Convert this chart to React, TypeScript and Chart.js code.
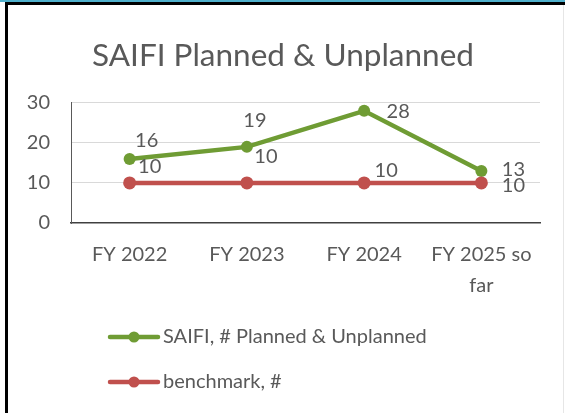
import React, { useEffect, useRef } from "react";
import { Chart, registerables } from "chart.js";

Chart.register(...registerables);

// ---- data ----
const categories: (string | string[])[] = ["FY 2022", "FY 2023", "FY 2024", ["FY 2025 so", "far"]];
const saifiValues = [16, 19, 28, 13];
const benchmarkValues = [10, 10, 10, 10];
const yTickValues = [0, 10, 20, 30];
const titleText = "SAIFI Planned & Unplanned";
const seriesNames = ["SAIFI, # Planned & Unplanned", "benchmark, #"];

// ---- style ----
const FONT = "Lato";
const TEXT = "#595959";
const GREEN = "#6f9c34";
const RED = "#c0504d";
const labelOffsets: number[][][] = [
  [[17, -18], [8, -26], [34, 1], [32, -1]],
  [[20, -16], [19, -26], [22, -12], [32, 3]],
];
const legendRowsY = [332, 377];
const legendLine = [102, 150];
const legendTextX = 155;

const dataLabelPlugin = {
  id: "dataLabels",
  afterDatasetsDraw(chart: any) {
    const ctx = chart.ctx;
    ctx.save();
    ctx.font = `20px ${FONT}`;
    ctx.fillStyle = TEXT;
    ctx.textAlign = "center";
    ctx.textBaseline = "middle";
    chart.data.datasets.forEach((ds: any, di: number) => {
      const meta = chart.getDatasetMeta(di);
      meta.data.forEach((pt: any, i: number) => {
        const [dx, dy] = labelOffsets[di][i];
        ctx.fillText(String(ds.data[i]), pt.x + dx, pt.y + dy);
      });
    });
    ctx.restore();
  },
};

const legendPlugin = {
  id: "customLegend",
  afterDraw(chart: any) {
    const ctx = chart.ctx;
    ctx.save();
    chart.data.datasets.forEach((ds: any, i: number) => {
      const y = legendRowsY[i];
      ctx.strokeStyle = ds.borderColor;
      ctx.lineWidth = 4.5;
      ctx.lineCap = "round";
      ctx.beginPath();
      ctx.moveTo(legendLine[0], y);
      ctx.lineTo(legendLine[1], y);
      ctx.stroke();
      ctx.fillStyle = ds.backgroundColor;
      ctx.beginPath();
      ctx.arc((legendLine[0] + legendLine[1]) / 2, y, 5.5, 0, Math.PI * 2);
      ctx.fill();
      ctx.font = `20px ${FONT}`;
      ctx.fillStyle = TEXT;
      ctx.textAlign = "left";
      ctx.textBaseline = "middle";
      ctx.fillText(ds.label, legendTextX, y);
    });
    ctx.restore();
  },
};

export default function App() {
  const ref = useRef<HTMLCanvasElement | null>(null);
  useEffect(() => {
    if (!ref.current) return;
    const chart = new Chart(ref.current, {
      type: "line",
      data: {
        labels: categories as any,
        datasets: [
          {
            label: seriesNames[0],
            data: saifiValues,
            borderColor: GREEN,
            backgroundColor: GREEN,
            borderWidth: 4.5,
            pointRadius: 6,
            pointHoverRadius: 6,
            pointBackgroundColor: GREEN,
            pointBorderWidth: 0,
            tension: 0,
            order: 2,
          },
          {
            label: seriesNames[1],
            data: benchmarkValues,
            borderColor: RED,
            backgroundColor: RED,
            borderWidth: 4.5,
            pointRadius: 6.5,
            pointHoverRadius: 6.5,
            pointBackgroundColor: RED,
            pointBorderWidth: 0,
            tension: 0,
            order: 1,
          },
        ],
      },
      options: {
        responsive: false,
        animation: false,
        layout: { padding: { top: 0, left: 18, right: 23, bottom: 110 } },
        plugins: {
          legend: { display: false },
          tooltip: { enabled: false },
          title: {
            display: true,
            text: titleText,
            color: TEXT,
            font: { family: FONT, size: 31.5, weight: "normal" },
            padding: { top: 32, bottom: 28 },
          },
        },
        scales: {
          x: {
            offset: true,
            grid: { display: false, drawTicks: false },
            border: { display: true, color: "#404040", width: 1.5 },
            ticks: {
              color: TEXT,
              font: { family: FONT, size: 20, lineHeight: 1.55 },
              padding: 16,
              maxRotation: 0,
              autoSkip: false,
            },
            afterFit: (s: any) => {
              s.height = 80;
            },
          },
          y: {
            min: 0,
            max: 30,
            afterBuildTicks: (s: any) => {
              s.ticks = yTickValues.map((v) => ({ value: v }));
            },
            grid: {
              drawTicks: false,
              color: (c: any) => (c.tick && c.tick.value === 0 ? "rgba(0,0,0,0)" : "#d9d9d9"),
              lineWidth: 1,
            },
            border: { display: true, color: "#595959", width: 1 },
            ticks: {
              color: TEXT,
              font: { family: FONT, size: 20 },
              padding: 21,
            },
            afterFit: (s: any) => {
              s.width = 45;
            },
          },
        },
      },
      plugins: [dataLabelPlugin, legendPlugin],
    });
    return () => chart.destroy();
  }, []);

  return (
    <div style={{ position: "absolute", left: 0, top: 0, width: 565, height: 413, background: "#fff", overflow: "hidden" }}>
      <div style={{ position: "absolute", left: 0, top: 0, width: 565, height: 2, background: "#4fb0cc" }} />
      <div style={{ position: "absolute", left: 5, top: 2, width: 560, height: 3, background: "#000" }} />
      <div style={{ position: "absolute", left: 5, top: 2, width: 3, height: 411, background: "#000" }} />
      <div style={{ position: "absolute", left: 563, top: 5, width: 1, height: 408, background: "#e6e6e6" }} />
      <canvas ref={ref} width={555} height={408} style={{ position: "absolute", left: 8, top: 5, width: 555, height: 408 }} />
    </div>
  );
}
